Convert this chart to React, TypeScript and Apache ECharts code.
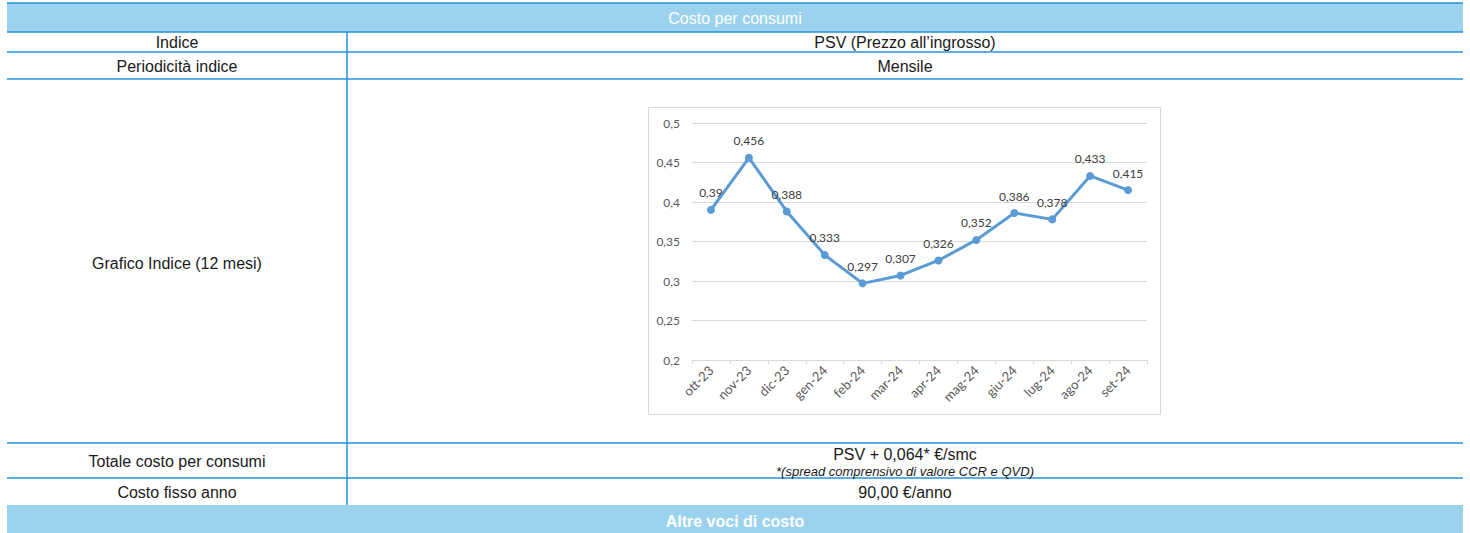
import React, { useEffect, useRef } from "react";
import * as echarts from "echarts";

const months = ["ott-23", "nov-23", "dic-23", "gen-24", "feb-24", "mar-24", "apr-24", "mag-24", "giu-24", "lug-24", "ago-24", "set-24"];
const psvValues = [0.39, 0.456, 0.388, 0.333, 0.297, 0.307, 0.326, 0.352, 0.386, 0.378, 0.433, 0.415];
const yMin = 0.2;
const yMax = 0.5;
const yStep = 0.05;

const headerTitle = "Costo per consumi";
const footerTitle = "Altre voci di costo";
const rowLabels = ["Indice", "Periodicità indice", "Grafico Indice (12 mesi)", "Totale costo per consumi", "Costo fisso anno"];
const rowValues = ["PSV (Prezzo all\u2019ingrosso)", "Mensile", "", "PSV + 0,064* \u20ac/smc", "90,00 \u20ac/anno"];
const rowNote = "*(spread comprensivo di valore CCR e QVD)";

const fmt = (v: number) => String(Number(v.toFixed(3))).replace(".", ",");

export default function App() {
  const ref = useRef<HTMLDivElement>(null);
  useEffect(() => {
    if (!ref.current) return;
    const chart = echarts.init(ref.current, null, { renderer: "svg" });
    const L = 7, R = 1463, DIV = 347;
    const blue = "#2493DB";
    const band = "#9BD3EE";
    const txt = "#1a1a1a";
    const tf = "Liberation Sans, Arial, sans-serif";
    const rowLines = [32, 52, 79, 443, 478];
    const rowCenters = [42, 66.5, 263, 461, 492.5];
    const g: any[] = [];
    g.push({ type: "rect", shape: { x: L, y: 3, width: R - L, height: 29 }, style: { fill: band } });
    g.push({ type: "line", shape: { x1: L, y1: 3, x2: R, y2: 3 }, style: { stroke: blue, lineWidth: 1.5 } });
    g.push({ type: "rect", shape: { x: L, y: 505, width: R - L, height: 28 }, style: { fill: band } });
    rowLines.forEach((y) => g.push({ type: "line", shape: { x1: L, y1: y, x2: R, y2: y }, style: { stroke: blue, lineWidth: 1.5 } }));
    g.push({ type: "line", shape: { x1: DIV, y1: 32, x2: DIV, y2: 505 }, style: { stroke: blue, lineWidth: 1.5 } });
    g.push({ type: "text", x: 735, y: 18, style: { text: headerTitle, fill: "#ffffff", fontSize: 16, fontFamily: tf, align: "center", verticalAlign: "middle" } });
    g.push({ type: "text", x: 735, y: 521, style: { text: footerTitle, fill: "#ffffff", fontSize: 16, fontWeight: "bold", fontFamily: tf, align: "center", verticalAlign: "middle" } });
    rowLabels.forEach((t, i) => {
      g.push({ type: "text", x: 177, y: rowCenters[i], style: { text: t, fill: txt, fontSize: 16, fontFamily: tf, align: "center", verticalAlign: "middle" } });
      const v = rowValues[i];
      if (v) {
        const vy = i === 3 ? 454 : rowCenters[i];
        g.push({ type: "text", x: 905, y: vy, style: { text: v, fill: txt, fontSize: 16, fontFamily: tf, align: "center", verticalAlign: "middle" } });
      }
    });
    g.push({ type: "text", x: 905, y: 471, style: { text: rowNote, fill: txt, fontSize: 13, fontStyle: "italic", fontFamily: tf, align: "center", verticalAlign: "middle" } });
    g.push({ type: "rect", z: -10, shape: { x: 648.5, y: 107.5, width: 512, height: 307 }, style: { fill: "#ffffff", stroke: "#D9D9D9", lineWidth: 1 } });

    const cf = "Lato, Open Sans, sans-serif";
    chart.setOption({
      animation: false,
      graphic: g,
      grid: { left: 692, right: 323, top: 123, bottom: 173, containLabel: false },
      xAxis: {
        type: "category",
        data: months,
        boundaryGap: true,
        axisLine: { lineStyle: { color: "#D9D9D9", width: 1 } },
        axisTick: { show: true, length: 4, lineStyle: { color: "#D9D9D9" } },
        axisLabel: { rotate: 45, color: "#595959", fontSize: 13, fontFamily: cf, margin: 8 },
      },
      yAxis: {
        type: "value",
        min: yMin,
        max: yMax,
        interval: yStep,
        axisLine: { show: false },
        axisTick: { show: false },
        splitLine: { lineStyle: { color: "#D9D9D9", width: 1 } },
        axisLabel: { color: "#595959", fontSize: 12, fontFamily: cf, margin: 12, formatter: (v: number) => fmt(v) },
      },
      series: [
        {
          type: "line",
          data: psvValues,
          symbol: "circle",
          symbolSize: 8,
          lineStyle: { color: "#5B9BD5", width: 3 },
          itemStyle: { color: "#5B9BD5" },
          label: { show: true, position: "top", distance: 7, color: "#404040", fontSize: 12, fontFamily: cf, formatter: (p: any) => fmt(p.value) },
        },
      ],
    });
    return () => chart.dispose();
  }, []);
  return <div ref={ref} style={{ position: "absolute", left: 0, top: 0, width: 1470, height: 533 }} />;
}
